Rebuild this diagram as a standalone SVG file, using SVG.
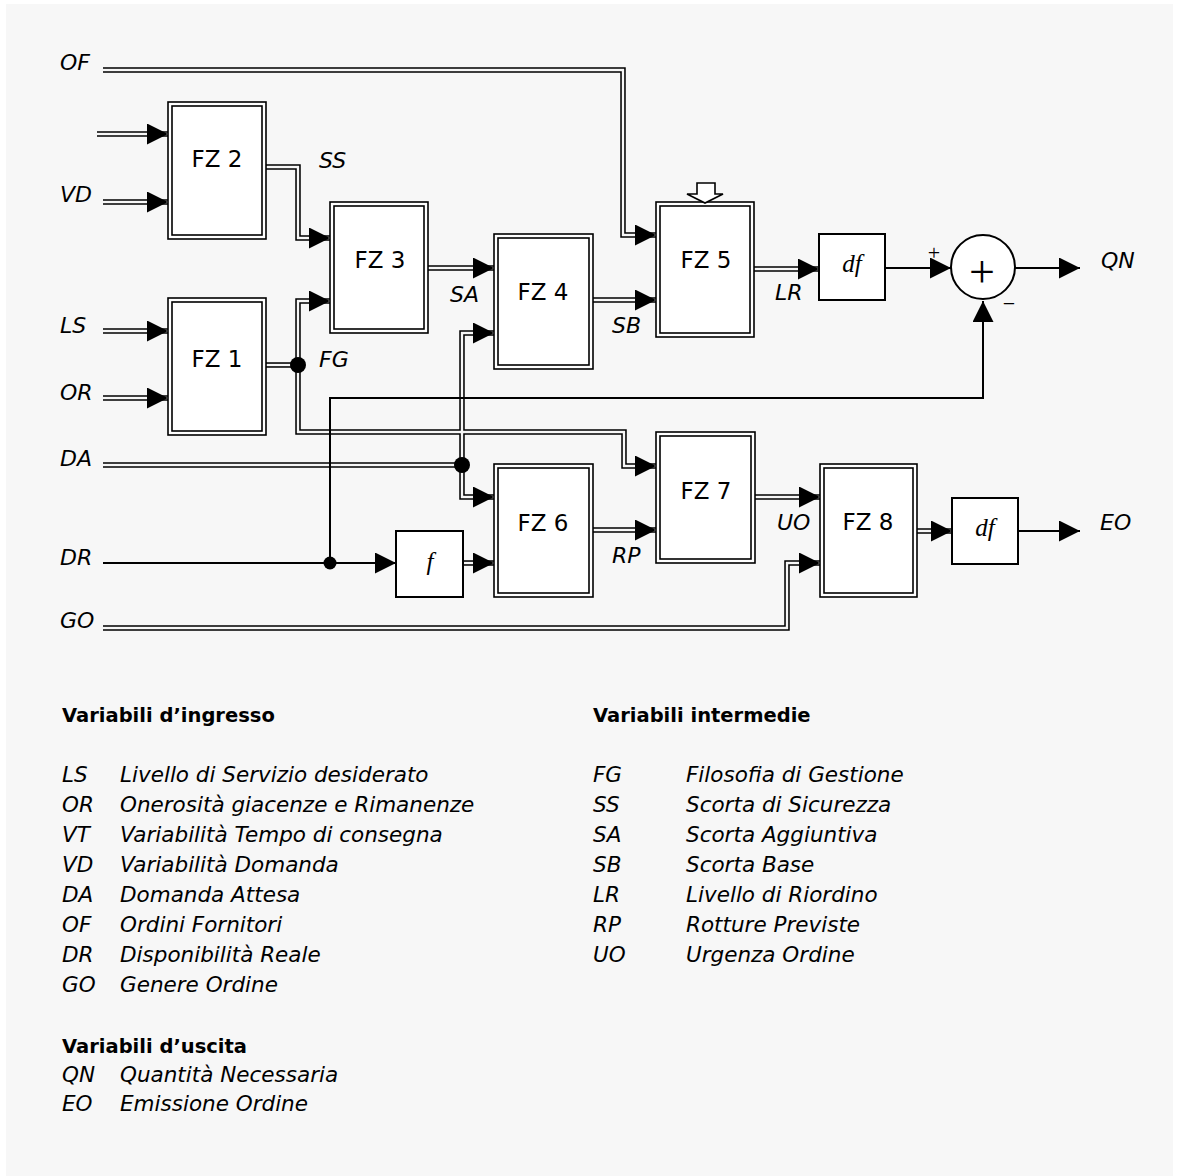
<svg xmlns="http://www.w3.org/2000/svg" xmlns:xlink="http://www.w3.org/1999/xlink" width="1179" height="1176" viewBox="0 0 1179 1176">
<defs>
<style>
.bg{fill:#f7f7f7}
.bo{fill:#fff;stroke:#000;stroke-width:1.6}
.bi{fill:#fff;stroke:#000;stroke-width:1.6}
.sbox{fill:#fff;stroke:#000;stroke-width:2}
.dblo{fill:none;stroke:#000;stroke-width:5.5}
.dbli{fill:none;stroke:#f7f7f7;stroke-width:2.4}
.arr{fill:none;stroke:none}
.sgl{fill:none;stroke:#000;stroke-width:2}
.lbl{font-family:"DejaVu Sans",sans-serif;font-style:italic;font-size:22px;fill:#000}
.fz{font-family:"DejaVu Sans",sans-serif;font-size:23px;text-anchor:middle;fill:#000}
.math{font-family:"Liberation Serif",serif;font-style:italic;font-size:25px;text-anchor:middle;fill:#000}
.sym{font-family:"Liberation Serif",serif;text-anchor:middle;fill:#000}
.hdr{font-family:"DejaVu Sans",sans-serif;font-weight:bold;font-size:19.5px;fill:#000}
.leg{font-family:"DejaVu Sans",sans-serif;font-style:italic;font-size:21.5px;fill:#000}
.dot{fill:#000}
</style>
<marker id="ah" markerUnits="userSpaceOnUse" markerWidth="21" markerHeight="21" refX="21" refY="10.5" orient="auto-start-reverse" viewBox="0 0 21 21"><path d="M0,0 L21,10.5 L0,21 z" fill="#000"/></marker>
<path id="pOF" d="M103,70 H623 V235 H656"/>
<path id="pIn2" d="M97,134 H168"/>
<path id="pVD" d="M103,202 H168"/>
<path id="pSS" d="M266,167 H298 V238 H330"/>
<path id="pLS" d="M103,331 H168"/>
<path id="pOR" d="M103,398 H168"/>
<path id="pFG1" d="M266,365 H298"/>
<path id="pFG" d="M330,301 H298 V432 H624 V466 H656"/>
<path id="pSA" d="M428,268 H494"/>
<path id="pDA" d="M103,465 H462"/>
<path id="pDAv" d="M494,333 H462 V497 H494"/>
<path id="pSB" d="M593,300 H656"/>
<path id="pLR" d="M754,269 H819"/>
<path id="pRP" d="M593,530 H656"/>
<path id="pF6" d="M463,563 H494"/>
<path id="pUO" d="M755,497 H820"/>
<path id="pGO" d="M103,628 H787 V563 H820"/>
<path id="pO8" d="M917,531 H952"/>
</defs>

<rect x="0" y="0" width="1179" height="1176" fill="#fff"/>
<rect class="bg" x="6" y="4" width="1167" height="1172"/>

<g id="connectors">
  <g class="dblo">
    <use xlink:href="#pOF"/><use xlink:href="#pIn2"/><use xlink:href="#pVD"/><use xlink:href="#pSS"/>
    <use xlink:href="#pLS"/><use xlink:href="#pOR"/><use xlink:href="#pFG1"/><use xlink:href="#pFG"/>
    <use xlink:href="#pSA"/><use xlink:href="#pDA"/><use xlink:href="#pDAv"/><use xlink:href="#pSB"/>
    <use xlink:href="#pLR"/><use xlink:href="#pRP"/><use xlink:href="#pF6"/><use xlink:href="#pUO"/>
    <use xlink:href="#pGO"/><use xlink:href="#pO8"/>
  </g>
  <g class="dbli">
    <use xlink:href="#pOF"/><use xlink:href="#pIn2"/><use xlink:href="#pVD"/><use xlink:href="#pSS"/>
    <use xlink:href="#pLS"/><use xlink:href="#pOR"/><use xlink:href="#pFG1"/><use xlink:href="#pFG"/>
    <use xlink:href="#pSA"/><use xlink:href="#pDA"/><use xlink:href="#pDAv"/><use xlink:href="#pSB"/>
    <use xlink:href="#pLR"/><use xlink:href="#pRP"/><use xlink:href="#pF6"/><use xlink:href="#pUO"/>
    <use xlink:href="#pGO"/><use xlink:href="#pO8"/>
  </g>
  <g class="arr">
    <use xlink:href="#pOF" marker-end="url(#ah)"/><use xlink:href="#pIn2" marker-end="url(#ah)"/>
    <use xlink:href="#pVD" marker-end="url(#ah)"/><use xlink:href="#pSS" marker-end="url(#ah)"/>
    <use xlink:href="#pLS" marker-end="url(#ah)"/><use xlink:href="#pOR" marker-end="url(#ah)"/>
    <use xlink:href="#pFG" marker-start="url(#ah)" marker-end="url(#ah)"/>
    <use xlink:href="#pSA" marker-end="url(#ah)"/>
    <use xlink:href="#pDAv" marker-start="url(#ah)" marker-end="url(#ah)"/>
    <use xlink:href="#pSB" marker-end="url(#ah)"/><use xlink:href="#pLR" marker-end="url(#ah)"/>
    <use xlink:href="#pRP" marker-end="url(#ah)"/><use xlink:href="#pF6" marker-end="url(#ah)"/>
    <use xlink:href="#pUO" marker-end="url(#ah)"/><use xlink:href="#pGO" marker-end="url(#ah)"/>
    <use xlink:href="#pO8" marker-end="url(#ah)"/>
  </g>
  <path class="sgl" d="M885,268 H951" marker-end="url(#ah)"/>
  <path class="sgl" d="M1015,268 H1080" marker-end="url(#ah)"/>
  <path class="sgl" d="M330,563 V398 H983 V301" marker-end="url(#ah)"/>
  <path class="sgl" d="M103,563 H396" marker-end="url(#ah)"/>
  <path class="sgl" d="M1018,531 H1080" marker-end="url(#ah)"/>
  <circle class="dot" cx="298" cy="365" r="8"/>
  <circle class="dot" cx="462" cy="465" r="8"/>
  <circle class="dot" cx="330" cy="563" r="6.5"/>
</g>

<g id="fz2"><rect class="bo" x="168" y="102" width="98" height="137"/><rect class="bi" x="172" y="106" width="90" height="129"/><text class="fz" x="217" y="167">FZ 2</text></g>
<g id="fz1"><rect class="bo" x="168" y="298" width="98" height="137"/><rect class="bi" x="172" y="302" width="90" height="129"/><text class="fz" x="217" y="367">FZ 1</text></g>
<g id="fz3"><rect class="bo" x="330" y="202" width="98" height="131"/><rect class="bi" x="334" y="206" width="90" height="123"/><text class="fz" x="380" y="268">FZ 3</text></g>
<g id="fz4"><rect class="bo" x="494" y="234" width="99" height="135"/><rect class="bi" x="498" y="238" width="91" height="127"/><text class="fz" x="543" y="300">FZ 4</text></g>
<g id="fz5"><rect class="bo" x="656" y="202" width="98" height="135"/><rect class="bi" x="660" y="206" width="90" height="127"/><text class="fz" x="706" y="268">FZ 5</text>
  <polygon points="697,183 715,183 715,194 723,194 705,203 687,194 697,194" fill="#fff" stroke="#000" stroke-width="1.6"/></g>
<g id="fz6"><rect class="bo" x="494" y="464" width="99" height="133"/><rect class="bi" x="498" y="468" width="91" height="125"/><text class="fz" x="543" y="531">FZ 6</text></g>
<g id="fz7"><rect class="bo" x="656" y="432" width="99" height="131"/><rect class="bi" x="660" y="436" width="91" height="123"/><text class="fz" x="706" y="499">FZ 7</text></g>
<g id="fz8"><rect class="bo" x="820" y="464" width="97" height="133"/><rect class="bi" x="824" y="468" width="89" height="125"/><text class="fz" x="868" y="530">FZ 8</text></g>
<g id="df1"><rect class="sbox" x="819" y="234" width="66" height="66"/><text class="math" x="852" y="272">df</text></g>
<g id="df2"><rect class="sbox" x="952" y="498" width="66" height="66"/><text class="math" x="985" y="536">df</text></g>
<g id="f"><rect class="sbox" x="396" y="531" width="67" height="66"/><text class="math" x="430" y="570">f</text></g>
<g id="sum"><circle cx="983" cy="267" r="32" fill="#fff" stroke="#000" stroke-width="2"/><text class="sym" x="982" y="287" font-size="46">+</text>
  <text class="sym" x="934" y="260" font-size="22">+</text><text class="sym" x="1009" y="311" font-size="22">−</text></g>

<g id="labels">
  <text class="lbl" x="60" y="70">OF</text>
  <text class="lbl" x="60" y="202">VD</text>
  <text class="lbl" x="60" y="333">LS</text>
  <text class="lbl" x="60" y="400">OR</text>
  <text class="lbl" x="60" y="466">DA</text>
  <text class="lbl" x="60" y="565">DR</text>
  <text class="lbl" x="60" y="628">GO</text>
  <text class="lbl" x="319" y="168">SS</text>
  <text class="lbl" x="319" y="367">FG</text>
  <text class="lbl" x="450" y="302">SA</text>
  <text class="lbl" x="612" y="333">SB</text>
  <text class="lbl" x="775" y="300">LR</text>
  <text class="lbl" x="612" y="563">RP</text>
  <text class="lbl" x="777" y="530">UO</text>
  <text class="lbl" x="1101" y="268">QN</text>
  <text class="lbl" x="1100" y="530">EO</text>
</g>

<g id="legend">
  <text class="hdr" x="62" y="722">Variabili d’ingresso</text>
  <text class="leg" x="62" y="782">LS</text><text class="leg" x="120" y="782">Livello di Servizio desiderato</text>
  <text class="leg" x="62" y="812">OR</text><text class="leg" x="120" y="812">Onerosità giacenze e Rimanenze</text>
  <text class="leg" x="62" y="842">VT</text><text class="leg" x="120" y="842">Variabilità Tempo di consegna</text>
  <text class="leg" x="62" y="872">VD</text><text class="leg" x="120" y="872">Variabilità Domanda</text>
  <text class="leg" x="62" y="902">DA</text><text class="leg" x="120" y="902">Domanda Attesa</text>
  <text class="leg" x="62" y="932">OF</text><text class="leg" x="120" y="932">Ordini Fornitori</text>
  <text class="leg" x="62" y="962">DR</text><text class="leg" x="120" y="962">Disponibilità Reale</text>
  <text class="leg" x="62" y="992">GO</text><text class="leg" x="120" y="992">Genere Ordine</text>
  <text class="hdr" x="62" y="1053">Variabili d’uscita</text>
  <text class="leg" x="62" y="1082">QN</text><text class="leg" x="120" y="1082">Quantità Necessaria</text>
  <text class="leg" x="62" y="1111">EO</text><text class="leg" x="120" y="1111">Emissione Ordine</text>
  <text class="hdr" x="593" y="722">Variabili intermedie</text>
  <text class="leg" x="593" y="782">FG</text><text class="leg" x="686" y="782">Filosofia di Gestione</text>
  <text class="leg" x="593" y="812">SS</text><text class="leg" x="686" y="812">Scorta di Sicurezza</text>
  <text class="leg" x="593" y="842">SA</text><text class="leg" x="686" y="842">Scorta Aggiuntiva</text>
  <text class="leg" x="593" y="872">SB</text><text class="leg" x="686" y="872">Scorta Base</text>
  <text class="leg" x="593" y="902">LR</text><text class="leg" x="686" y="902">Livello di Riordino</text>
  <text class="leg" x="593" y="932">RP</text><text class="leg" x="686" y="932">Rotture Previste</text>
  <text class="leg" x="593" y="962">UO</text><text class="leg" x="686" y="962">Urgenza Ordine</text>
</g>
</svg>
